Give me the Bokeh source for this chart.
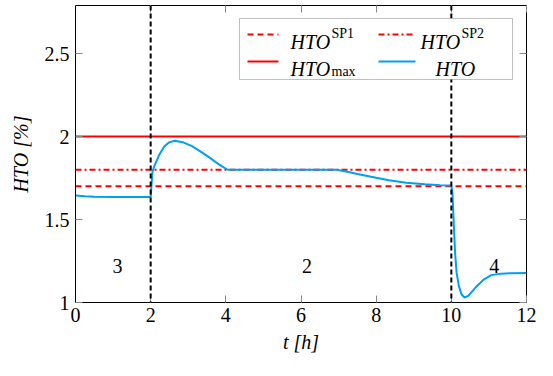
from bokeh.plotting import figure
from bokeh.models import (Range1d, LinearAxis, FixedTicker, CustomJSTickFormatter,
                          Span, Label, BoxAnnotation, Arrow, ColumnDataSource)
from bokeh.core.properties import value
from bokeh.embed import file_html
from bokeh.resources import INLINE

# ---------------- data ----------------
t = [0.0, 0.25, 0.5, 1.0, 1.5, 2.0, 2.02, 2.05, 2.1, 2.23, 2.36, 2.49, 2.64, 2.88,
     3.1, 3.32, 3.55, 3.75, 3.9, 4.05, 5.0, 6.0, 6.95, 7.2, 7.5, 8.0, 8.34, 8.8,
     9.3, 9.7, 10.0, 10.03, 10.06, 10.1, 10.14, 10.2, 10.27, 10.35, 10.45, 10.63,
     10.85, 11.06, 11.32, 11.6, 12.0]
hto = [1.645, 1.640, 1.637, 1.636, 1.636, 1.636, 1.70, 1.79, 1.824, 1.891, 1.94,
       1.965, 1.975, 1.964, 1.942, 1.911, 1.876, 1.843, 1.82, 1.80, 1.80, 1.80,
       1.80, 1.79, 1.775, 1.752, 1.737, 1.722, 1.712, 1.707, 1.705, 1.66, 1.50,
       1.30, 1.18, 1.10, 1.05, 1.03, 1.04, 1.087, 1.136, 1.165, 1.174, 1.177, 1.178]

hto_sp1 = 1.7
hto_sp2 = 1.8
hto_max = 2.0
switch_times = [2, 10]

region_labels = ["3", "2", "4"]
region_x = [1.12, 6.16, 11.14]
region_y = [1.22, 1.22, 1.22]

x_ticks = [0, 2, 4, 6, 8, 10, 12]
y_ticks = [1, 1.5, 2, 2.5]

FONT = "Liberation Serif"
RED = "#ff0000"
BLUE = "#00a0f0"
TICK = "#888888"

p = figure(width=537, height=360, x_range=Range1d(0, 12), y_range=Range1d(1, 2.79),
           output_backend="svg", toolbar_location=None,
           x_axis_type=None, y_axis_type=None,
           min_border_left=75, min_border_right=11, min_border_top=5, min_border_bottom=58)
p.outline_line_color = "black"
p.outline_line_width = 1
p.background_fill_color = "white"


def style_axis(ax, ticks, labels=True):
    ax.ticker = FixedTicker(ticks=ticks)
    ax.major_tick_in = 7
    ax.major_tick_out = 0
    ax.minor_tick_in = 0
    ax.minor_tick_out = 0
    ax.major_tick_line_color = TICK
    ax.major_tick_line_width = 1
    ax.axis_line_color = "black"
    ax.axis_line_width = 1
    if labels:
        ax.formatter = CustomJSTickFormatter(code="return tick.toString()")
        ax.major_label_text_font = FONT
        ax.major_label_text_font_size = "20px"
        ax.major_label_text_color = "black"
        ax.axis_label_text_font = FONT
        ax.axis_label_text_font_size = "20px"
        ax.axis_label_text_font_style = "italic"
        ax.axis_label_text_color = "black"
    else:
        ax.formatter = CustomJSTickFormatter(code="return ''")
        ax.major_label_text_font_size = "0px"
        ax.major_label_standoff = 0
        ax.axis_line_color = None


xb = LinearAxis(axis_label="t [h]")
style_axis(xb, x_ticks)
xb.major_label_standoff = 5
xb.axis_label_standoff = 6
p.add_layout(xb, "below")
yl = LinearAxis(axis_label="HTO [%]")
style_axis(yl, y_ticks)
yl.major_label_standoff = 6
yl.axis_label_standoff = 10
p.add_layout(yl, "left")
xt = LinearAxis()
style_axis(xt, x_ticks, labels=False)
p.add_layout(xt, "above")
yr = LinearAxis()
style_axis(yr, y_ticks, labels=False)
p.add_layout(yr, "right")

# reference lines (under the curve)
p.add_layout(Span(location=hto_sp1, dimension="width", line_color=RED, line_width=2,
                  line_dash="6 4", level="underlay"))
p.add_layout(Span(location=hto_sp2, dimension="width", line_color=RED, line_width=2,
                  line_dash="6 3 2 3", level="underlay"))
p.add_layout(Span(location=hto_max, dimension="width", line_color=RED, line_width=2,
                  level="underlay"))

src = ColumnDataSource(dict(t=t, hto=hto))
p.line("t", "hto", source=src, line_color=BLUE, line_width=2)

for ts in switch_times:
    p.add_layout(Span(location=ts, dimension="height", line_color="black",
                      line_width=2, line_dash="5 3"))

p.text(x=region_x, y=region_y, text=region_labels, text_font=value(FONT),
       text_font_size="20px", text_align="center", text_baseline="alphabetic",
       text_color="black")

# ---------------- legend (screen units, relative to frame) ----------------
p.add_layout(BoxAnnotation(left=164, right=437, bottom=223, top=284,
                           left_units="screen", right_units="screen",
                           top_units="screen", bottom_units="screen",
                           fill_color="white", fill_alpha=1.0,
                           line_color="#333333", line_width=1, level="annotation"))


def leg_line(x0, x1, y, dash, color):
    p.add_layout(Arrow(x_start=x0, y_start=y, x_end=x1, y_end=y, start=None, end=None,
                       start_units="screen", end_units="screen",
                       line_color=color, line_width=2, line_dash=dash))


def lbl(x, y, text, size, style="normal"):
    p.add_layout(Label(x=x, y=y, x_units="screen", y_units="screen", text=text,
                       text_font=FONT, text_font_size=size, text_font_style=style,
                       text_baseline="alphabetic", text_align="left",
                       text_color="black"))


leg_line(172, 203, 268, "6 4", RED)
lbl(215, 261, "HTO", "20px", "italic")
lbl(256, 269, "SP1", "14px")
leg_line(303, 339, 268, "6 3 2 3", RED)
lbl(345, 261, "HTO", "20px", "italic")
lbl(386, 269, "SP2", "14px")
leg_line(172, 203, 241, "solid", RED)
lbl(215, 234, "HTO", "20px", "italic")
lbl(256, 231, "max", "14px")
leg_line(303, 340, 241, "solid", BLUE)
lbl(360, 234, "HTO", "20px", "italic")

open("out.html", "w").write(file_html(p, INLINE))
